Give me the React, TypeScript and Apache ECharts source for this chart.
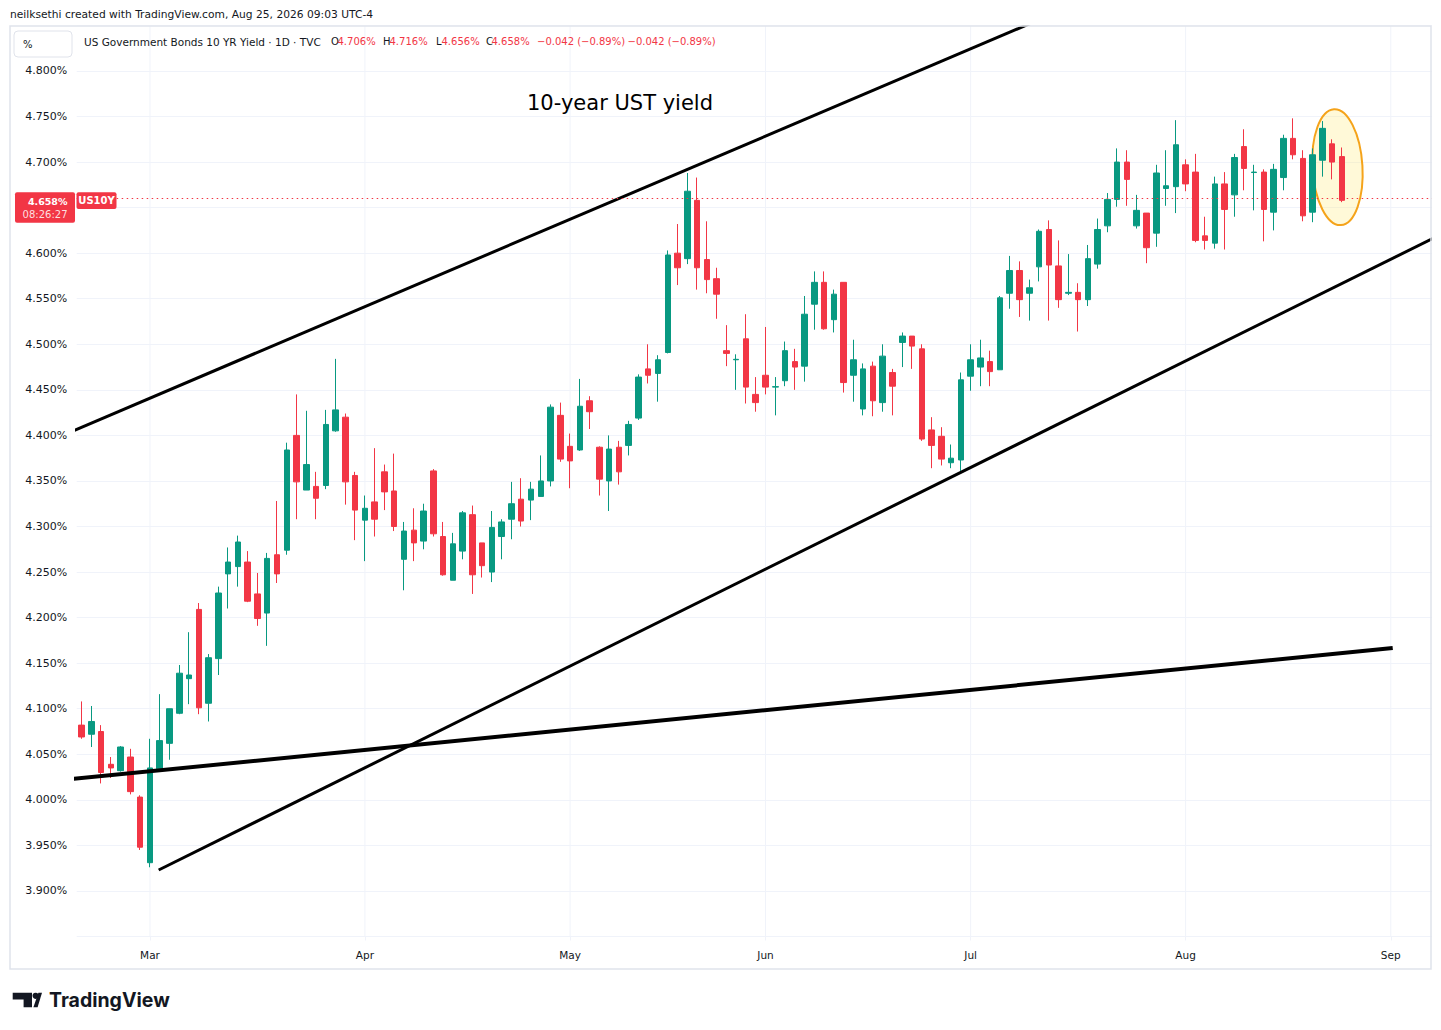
import React, { useEffect, useRef } from "react";
import * as echarts from "echarts";

// ---- trading sessions (2026), one list of days per month ----
const FEB_DAYS = [19, 20, 23, 24, 25, 26, 27];
const MAR_DAYS = [2, 3, 4, 5, 6, 9, 10, 11, 12, 13, 16, 17, 18, 19, 20, 23, 24, 25, 26, 27, 30, 31];
const APR_DAYS = [1, 2, 6, 7, 8, 9, 10, 13, 14, 15, 16, 17, 20, 21, 22, 23, 24, 27, 28, 29, 30];
const MAY_DAYS = [1, 4, 5, 6, 7, 8, 11, 12, 13, 14, 15, 18, 19, 20, 21, 22, 26, 27, 28, 29];
const JUN_DAYS = [1, 2, 3, 4, 5, 8, 9, 10, 11, 12, 15, 16, 17, 18, 22, 23, 24, 25, 26, 29, 30];
const JUL_DAYS = [1, 2, 6, 7, 8, 9, 10, 13, 14, 15, 16, 17, 20, 21, 22, 23, 24, 27, 28, 29, 30, 31];
const AUG_DAYS = [3, 4, 5, 6, 7, 10, 11, 12, 13, 14, 17, 18, 19, 20, 21, 24, 25, 26, 27, 28, 31];
const SEP_DAYS = [1, 2, 3, 4, 8];
const MONTH_NAMES = ["Jan", "Feb", "Mar", "Apr", "May", "Jun", "Jul", "Aug", "Sep"];

// ---- OHLC (%), Feb 19 .. Aug 25 ----
const OPEN = [
  4.082, 4.072, 4.075, 4.039, 4.032, 4.047, 4.003,
  3.931, 4.034, 4.062, 4.095, 4.133, 4.209, 4.106, 4.155, 4.248, 4.256, 4.261, 4.226, 4.205, 4.269, 4.274, 4.400, 4.340, 4.344, 4.345, 4.405, 4.420, 4.356,
  4.307, 4.327, 4.360, 4.339, 4.264, 4.296, 4.284, 4.361, 4.289, 4.241, 4.273, 4.313, 4.282, 4.250, 4.289, 4.308, 4.330, 4.329, 4.333, 4.350, 4.422,
  4.388, 4.384, 4.438, 4.387, 4.350, 4.387, 4.389, 4.419, 4.473, 4.468, 4.491, 4.600, 4.594, 4.658, 4.593, 4.572, 4.493, 4.483, 4.506, 4.445,
  4.466, 4.453, 4.460, 4.481, 4.476, 4.544, 4.568, 4.527, 4.568, 4.466, 4.429, 4.476, 4.436, 4.469, 4.502, 4.509, 4.495, 4.406, 4.399, 4.370, 4.373,
  4.465, 4.475, 4.481, 4.472, 4.556, 4.581, 4.556, 4.585, 4.626, 4.586, 4.556, 4.557, 4.549, 4.588, 4.630, 4.659, 4.700, 4.630, 4.644, 4.622, 4.671, 4.673,
  4.697, 4.689, 4.619, 4.611, 4.676, 4.664, 4.717, 4.6885, 4.689, 4.645, 4.683, 4.726, 4.704, 4.645, 4.702, 4.720, 4.706,
];
const HIGH = [
  4.108, 4.103, 4.082, 4.047, 4.059, 4.056, 4.005,
  4.067, 4.116, 4.100, 4.148, 4.184, 4.216, 4.160, 4.234, 4.277, 4.290, 4.273, 4.249, 4.271, 4.328, 4.392, 4.445, 4.427, 4.360, 4.428, 4.484, 4.424, 4.360,
  4.334, 4.386, 4.368, 4.380, 4.305, 4.320, 4.325, 4.363, 4.305, 4.293, 4.317, 4.323, 4.282, 4.317, 4.308, 4.349, 4.353, 4.349, 4.378, 4.434, 4.436,
  4.402, 4.462, 4.443, 4.388, 4.400, 4.394, 4.416, 4.467, 4.500, 4.488, 4.603, 4.632, 4.688, 4.683, 4.635, 4.584, 4.521, 4.489, 4.533, 4.464,
  4.519, 4.464, 4.503, 4.495, 4.553, 4.580, 4.580, 4.560, 4.568, 4.505, 4.479, 4.481, 4.500, 4.473, 4.513, 4.509, 4.500, 4.420, 4.409, 4.390, 4.469,
  4.500, 4.505, 4.493, 4.553, 4.597, 4.591, 4.571, 4.626, 4.636, 4.614, 4.599, 4.567, 4.609, 4.638, 4.666, 4.715, 4.713, 4.664, 4.644, 4.697, 4.713, 4.746,
  4.703, 4.709, 4.640, 4.684, 4.689, 4.709, 4.736, 4.697, 4.692, 4.698, 4.730, 4.748, 4.713, 4.715, 4.745, 4.725, 4.716,
];
const LOW = [
  4.067, 4.058, 4.018, 4.024, 4.031, 4.006, 3.945,
  3.926, 4.034, 4.044, 4.094, 4.105, 4.094, 4.086, 4.137, 4.210, 4.234, 4.217, 4.191, 4.169, 4.238, 4.269, 4.308, 4.340, 4.308, 4.341, 4.404, 4.324, 4.285,
  4.262, 4.289, 4.318, 4.295, 4.230, 4.262, 4.275, 4.289, 4.246, 4.241, 4.264, 4.226, 4.244, 4.239, 4.264, 4.286, 4.300, 4.307, 4.333, 4.344, 4.371,
  4.342, 4.383, 4.407, 4.334, 4.317, 4.346, 4.378, 4.417, 4.457, 4.437, 4.490, 4.565, 4.588, 4.560, 4.556, 4.528, 4.476, 4.450, 4.435, 4.426,
  4.445, 4.422, 4.454, 4.450, 4.459, 4.516, 4.516, 4.513, 4.447, 4.437, 4.422, 4.421, 4.426, 4.422, 4.475, 4.473, 4.394, 4.364, 4.367, 4.364, 4.361,
  4.449, 4.454, 4.454, 4.472, 4.539, 4.530, 4.526, 4.569, 4.526, 4.540, 4.554, 4.514, 4.542, 4.583, 4.623, 4.651, 4.652, 4.627, 4.589, 4.607, 4.652, 4.644,
  4.668, 4.612, 4.604, 4.605, 4.604, 4.640, 4.669, 4.647, 4.613, 4.625, 4.669, 4.703, 4.635, 4.634, 4.684, 4.681, 4.656,
];
const CLOSE = [
  4.069, 4.086, 4.030, 4.035, 4.058, 4.009, 3.948,
  4.035, 4.065, 4.100, 4.139, 4.137, 4.101, 4.156, 4.227, 4.261, 4.283, 4.218, 4.199, 4.265, 4.248, 4.384, 4.349, 4.368, 4.331, 4.412, 4.428, 4.349, 4.318,
  4.320, 4.308, 4.338, 4.300, 4.295, 4.282, 4.317, 4.292, 4.247, 4.281, 4.315, 4.247, 4.257, 4.299, 4.305, 4.325, 4.306, 4.341, 4.350, 4.431, 4.374,
  4.372, 4.432, 4.426, 4.352, 4.385, 4.360, 4.412, 4.464, 4.466, 4.483, 4.598, 4.584, 4.668, 4.584, 4.571, 4.555, 4.490, 4.4835, 4.453, 4.436,
  4.453, 4.4535, 4.493, 4.475, 4.533, 4.568, 4.517, 4.555, 4.458, 4.483, 4.473, 4.438, 4.487, 4.454, 4.509, 4.498, 4.396, 4.389, 4.374, 4.375, 4.461,
  4.483, 4.485, 4.470, 4.551, 4.581, 4.549, 4.562, 4.624, 4.587, 4.549, 4.557, 4.549, 4.594, 4.626, 4.659, 4.700, 4.681, 4.647, 4.606, 4.688, 4.674, 4.719,
  4.676, 4.614, 4.614, 4.676, 4.648, 4.705, 4.693, 4.689, 4.648, 4.692, 4.726, 4.708, 4.641, 4.708, 4.737, 4.700, 4.658,
];

// ---- price scale ----
const Y_MIN = 3.85;
const Y_MAX = 4.85;
const Y_STEP = 0.05;

// ---- drawn trend lines: [bar index, yield] ----
const UPPER_CHANNEL = [[-1, 4.4044], [110, 4.911]];
const LOWER_CHANNEL = [[7.89, 3.923], [140, 4.6252]];
const BASE_LINE = [[-1, 4.0228], [134.2, 4.1667]];
// highlight ellipse: centre [bar index, yield], half sizes
const HILITE_CENTER = [128.57, 4.6943];
const HILITE_HALF = [2.56, 0.0637];

const HEADER_VALUES = { O: "4.706%", H: "4.716%", L: "4.656%", C: "4.658%", chg: "−0.042 (−0.89%)" };

const UP = "#089981";
const DOWN = "#f23645";
const TEXT = "#131722";
const GRID = "#f0f3fa";
const FONT = '"DejaVu Sans", Verdana, sans-serif';

const SESSIONS: [number, number[]][] = [
  [2, FEB_DAYS], [3, MAR_DAYS], [4, APR_DAYS], [5, MAY_DAYS], [6, JUN_DAYS], [7, JUL_DAYS], [8, AUG_DAYS], [9, SEP_DAYS],
];

export default function App() {
  const ref = useRef<HTMLDivElement>(null);

  useEffect(() => {
    const el = ref.current!;
    const chart = echarts.init(el, null, { renderer: "svg" });

    const pad = (n: number) => (n < 10 ? "0" + n : "" + n);
    const categories: string[] = [];
    const monthStart: Record<number, string> = {};
    SESSIONS.forEach(([m, days]) => {
      days.forEach((d, i) => {
        if (i === 0 && m > 2) monthStart[categories.length] = MONTH_NAMES[m - 1];
        categories.push(`2026-${pad(m)}-${pad(d)}`);
      });
    });
    const nCat = categories.length;
    const candles = OPEN.map((o, i) => [o, CLOSE[i], LOW[i], HIGH[i]]);
    const lastClose = CLOSE[CLOSE.length - 1];
    const monthIdx = Object.keys(monthStart).map(Number);

    const gridLeft = 76.7;
    const band = 9.77;
    const gridTop = 25.4;
    const gridH = 911.1;

    const vSeries = monthIdx.map((i) => ({
      type: "line",
      xAxisIndex: 1,
      yAxisIndex: 0,
      data: [[i, Y_MIN], [i, Y_MAX]],
      showSymbol: false,
      silent: true,
      z: 1,
      lineStyle: { color: GRID, width: 1 },
    }));

    const trend = (data: number[][], width: number) => ({
      type: "line",
      xAxisIndex: 1,
      yAxisIndex: 0,
      data,
      showSymbol: false,
      silent: true,
      clip: true,
      z: 3,
      lineStyle: { color: "#000", width },
    });

    chart.setOption({
      animation: false,
      backgroundColor: "#fff",
      grid: { left: gridLeft, top: gridTop, width: band * nCat, height: gridH, containLabel: false },
      xAxis: [
        {
          type: "category",
          data: categories,
          boundaryGap: true,
          axisLine: { show: false },
          axisTick: {
            show: true,
            alignWithLabel: true,
            length: 4,
            interval: (i: number) => monthStart[i] !== undefined,
            lineStyle: { color: GRID },
          },
          splitLine: { show: false },
          axisLabel: {
            interval: (i: number) => monthStart[i] !== undefined,
            formatter: (_v: string, i: number) => monthStart[i] || "",
            color: TEXT,
            fontSize: 10.5,
            fontFamily: FONT,
            margin: 13,
          },
        },
        { type: "value", min: -0.5, max: nCat - 0.5, show: false, splitLine: { show: false } },
      ],
      yAxis: {
        type: "value",
        position: "left",
        min: Y_MIN,
        max: Y_MAX,
        interval: Y_STEP,
        axisLine: { show: false },
        axisTick: { show: false },
        splitLine: { show: true, lineStyle: { color: GRID, width: 1 } },
        axisLabel: {
          color: TEXT,
          fontSize: 11,
          fontFamily: FONT,
          margin: 9.5,
          // edge ticks are not labelled; the tick hidden under the last-price tag is skipped
          formatter: (v: number) =>
            v < Y_MIN + 0.025 || v > Y_MAX - 0.025 || Math.abs(v - lastClose) < 0.02 ? "" : v.toFixed(3) + "%",
        },
      },
      series: [
        ...vSeries,
        {
          type: "candlestick",
          xAxisIndex: 0,
          yAxisIndex: 0,
          data: candles,
          barWidth: 6,
          z: 2,
          itemStyle: { color: UP, color0: DOWN, borderColor: UP, borderColor0: DOWN, borderWidth: 1 },
          markLine: {
            silent: true,
            symbol: ["none", "none"],
            label: { show: false },
            lineStyle: { color: DOWN, type: [1.5, 3.5], width: 1 },
            data: [{ yAxis: lastClose }],
          },
        },
        trend(UPPER_CHANNEL, 3),
        trend(LOWER_CHANNEL, 3),
        trend(BASE_LINE, 4),
      ],
    });

    const px = (x: number, y: number) => chart.convertToPixel({ xAxisIndex: 1, yAxisIndex: 0 }, [x, y]) as number[];
    const c = px(HILITE_CENTER[0], HILITE_CENTER[1]);
    const e = px(HILITE_CENTER[0] + HILITE_HALF[0], HILITE_CENTER[1] + HILITE_HALF[1]);
    const rx = Math.abs(e[0] - c[0]);
    const ry = Math.abs(c[1] - e[1]);
    const py = px(0, lastClose)[1];

    const txt = (x: number, y: number, text: string, font: string, fill: string, align = "left", z = 70) => ({
      type: "text",
      x,
      y,
      z,
      silent: true,
      style: { text, font, fill, textAlign: align, textVerticalAlign: "middle" },
    });

    const hdrFont = `10px ${FONT}`;
    chart.setOption({
      graphic: [
        // highlight ellipse (under candles)
        {
          type: "ellipse",
          z: 1,
          silent: true,
          shape: { cx: c[0], cy: c[1], rx, ry },
          originX: c[0],
          originY: c[1],
          rotation: 0.06,
          style: { fill: "rgba(255,230,100,0.25)", stroke: "#f5a31a", lineWidth: 2 },
        },
        // mask outside of frame
        { type: "rect", z: 50, silent: true, shape: { x: 1432, y: 0, width: 20, height: 1030 }, style: { fill: "#fff" } },
        { type: "rect", z: 50, silent: true, shape: { x: 0, y: 0, width: 1441, height: 25.5 }, style: { fill: "#fff" } },
        // frame
        { type: "rect", z: 60, silent: true, shape: { x: 10, y: 26, width: 1421, height: 943 }, style: { fill: "none", stroke: "#e0e3eb", lineWidth: 1.5 } },
        // attribution
        txt(10, 14.5, "neilksethi created with TradingView.com, Aug 25, 2026 09:03 UTC-4", `10.7px ${FONT}`, TEXT),
        // % box
        { type: "rect", z: 60, silent: true, shape: { x: 14, y: 31, width: 58, height: 26, r: 4 }, style: { fill: "#fff", stroke: "#e0e3eb", lineWidth: 1 } },
        txt(23, 44, "%", hdrFont, TEXT),
        // legend
        txt(84, 41.5, "US Government Bonds 10 YR Yield · 1D · TVC", `10.5px ${FONT}`, TEXT),
        txt(331, 41.5, "O", hdrFont, TEXT),
        txt(337.5, 41.5, HEADER_VALUES.O, hdrFont, DOWN),
        txt(383, 41.5, "H", hdrFont, TEXT),
        txt(389.5, 41.5, HEADER_VALUES.H, hdrFont, DOWN),
        txt(436, 41.5, "L", hdrFont, TEXT),
        txt(441.5, 41.5, HEADER_VALUES.L, hdrFont, DOWN),
        txt(486, 41.5, "C", hdrFont, TEXT),
        txt(491.5, 41.5, HEADER_VALUES.C, hdrFont, DOWN),
        txt(537, 41.5, HEADER_VALUES.chg, hdrFont, DOWN),
        txt(627.5, 41.5, HEADER_VALUES.chg, hdrFont, DOWN),
        // annotation
        txt(620, 103, "10-year UST yield", `21px ${FONT}`, "#000", "center"),
        // price tags
        { type: "rect", z: 60, silent: true, shape: { x: 15, y: py - 8, width: 60, height: 30.5, r: 2 }, style: { fill: DOWN } },
        txt(67.5, py + 1, lastClose.toFixed(3) + "%", `bold 9.5px ${FONT}`, "#fff", "right"),
        txt(67.5, py + 13.8, "08:26:27", `10px ${FONT}`, "rgba(255,255,255,0.85)", "right"),
        { type: "rect", z: 60, silent: true, shape: { x: 76.5, y: py - 8, width: 40, height: 16.6, r: 2 }, style: { fill: DOWN } },
        txt(96.5, py + 0.3, "US10Y", `bold 10px ${FONT}`, "#fff", "center"),
        // TradingView logo
        {
          type: "polygon",
          z: 60,
          silent: true,
          shape: { points: [[12.7, 992.7], [32, 992.7], [32, 1007.3], [23.6, 1007.3], [23.6, 999.4], [12.7, 999.4]] },
          style: { fill: "#131722" },
        },
        { type: "circle", z: 60, silent: true, shape: { cx: 35.6, cy: 995.8, r: 3.1 }, style: { fill: "#131722" } },
        {
          type: "polygon",
          z: 60,
          silent: true,
          shape: { points: [[38.4, 992.7], [42, 992.7], [37.6, 1007.3], [33.4, 1007.3]] },
          style: { fill: "#131722" },
        },
        txt(49, 1000, "TradingView", `bold 19.5px Inter, Roboto, sans-serif`, "#131722"),
      ],
    });

    return () => chart.dispose();
  }, []);

  return (
    <div
      ref={ref}
      style={{ position: "fixed", left: 0, top: 0, width: 1441, height: 1030, background: "#fff" }}
    />
  );
}
